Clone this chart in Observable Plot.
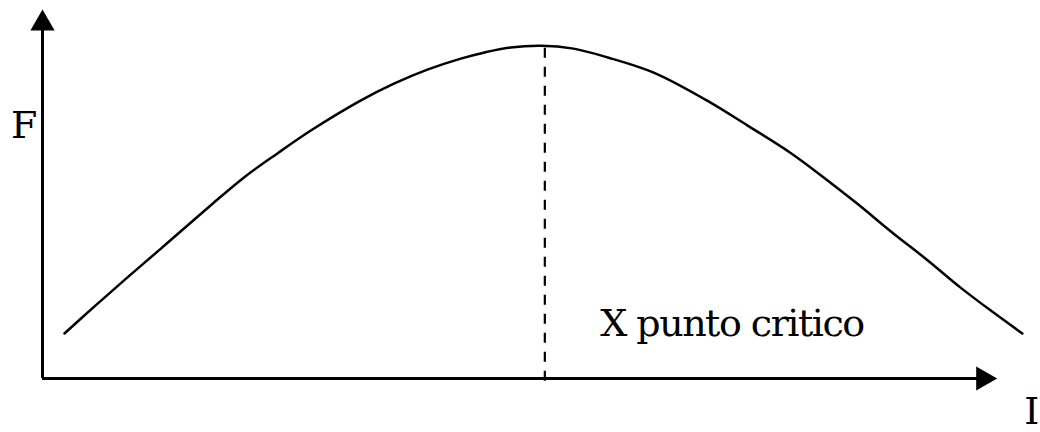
<!DOCTYPE html>
<html>
<head>
<meta charset="utf-8">
<script src="https://cdn.jsdelivr.net/npm/d3@7"></script>
<script src="https://cdn.jsdelivr.net/npm/@observablehq/plot@0.6"></script>
<style>
  html, body { margin: 0; padding: 0; background: #fff; }
  #chart { width: 1040px; height: 432px; }
  #chart svg text { font-family: "DejaVu Serif", "Liberation Serif", serif !important; letter-spacing: -1.5px; }
</style>
</head>
<body>
<div id="chart"></div>
<script>
// Curve F(I) (arbitrary units, axes 0..10)
const curveI = [0.23, 0.53, 0.89, 1.24, 1.76, 2.11, 2.46, 2.81, 3.33, 3.68, 4.03, 4.38, 4.62, 4.90, 5.22, 5.56, 5.92, 6.40, 6.96, 7.38, 7.83, 8.18, 8.53, 8.91, 9.27, 9.61, 9.93, 10.26];
const curveF = [1.22, 1.92, 2.74, 3.52, 4.69, 5.45, 6.10, 6.72, 7.53, 7.99, 8.37, 8.67, 8.83, 8.97, 9.02, 8.94, 8.70, 8.29, 7.53, 6.86, 6.12, 5.45, 4.74, 3.93, 3.20, 2.47, 1.84, 1.22];

// Critical point (dashed line)
const criticalI = 5.26;
const criticalTop = 8.95;
const criticalBottom = -0.22;

// Axis extents
const axisIEnd = 9.85;
const axisFEnd = 9.62;

// Labels
const labels = [
  {text: "F", I: -0.33, F: 6.53},
  {text: "I", I: 10.28, F: -1.22},
  {text: "X punto critico", I: 5.84, F: 1.165}
];

const curve = curveI.map((d, i) => ({I: d, F: curveF[i]}));
const font = "DejaVu Serif, Liberation Serif, serif";

const chart = Plot.plot({
  width: 1040,
  height: 432,
  margin: 0,
  x: {domain: [0, 10], range: [42, 997], axis: null},
  y: {domain: [0, 10], range: [378, 9], axis: null},
  style: {background: "#fff", fontFamily: font},
  marks: [
    Plot.ruleX([0], {y1: 0, y2: axisFEnd, stroke: "#000", strokeWidth: 3}),
    Plot.ruleY([0], {x1: 0, x2: axisIEnd, stroke: "#000", strokeWidth: 3}),
    Plot.dot([{I: 0, F: axisFEnd}], {x: "I", y: "F", symbol: "triangle", r: 9, fill: "#000", stroke: null}),
    Plot.dot([{I: axisIEnd, F: 0}], {x: "I", y: "F", symbol: "triangle", r: 9, fill: "#000", stroke: null, rotate: 90}),
    Plot.ruleX([criticalI], {y1: criticalTop, y2: criticalBottom, stroke: "#000", strokeWidth: 2.2, strokeDasharray: "10,9"}),
    Plot.line(curve, {x: "I", y: "F", curve: "catmull-rom", stroke: "#000", strokeWidth: 2.5}),
    Plot.text(labels, {x: "I", y: "F", text: "text", textAnchor: "start", lineAnchor: "bottom", fontSize: 38, fill: "#000", fontFamily: font})
  ]
});
document.getElementById("chart").appendChild(chart);
</script>
</body>
</html>
